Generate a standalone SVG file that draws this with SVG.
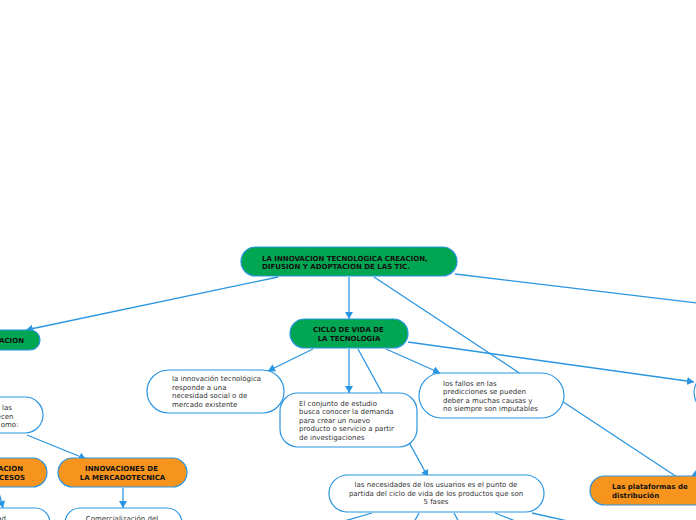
<svg xmlns="http://www.w3.org/2000/svg" width="696" height="520" viewBox="0 0 696 520">
<defs>
<marker id="arr" markerUnits="userSpaceOnUse" markerWidth="8" markerHeight="8" refX="7" refY="4" orient="auto"><path d="M0,0 L7,4 L0,8 z" fill="#2a95e0"/></marker>
</defs>
<style>
.c{stroke:#2a95e0;stroke-width:1.3;fill:none}
.a{marker-end:url(#arr)}
.g{fill:#00a651;stroke:#2a95e0;stroke-width:1.2}
.o{fill:#f7941d;stroke:#2a95e0;stroke-width:1.2}
.w{fill:#fff;stroke:#2a95e0;stroke-width:1.2}
.t{font-family:"DejaVu Sans",Verdana,sans-serif;font-size:7px;fill:#333}
.b{font-family:"DejaVu Sans",Verdana,sans-serif;font-size:7px;font-weight:bold;fill:#111}
.m{text-anchor:middle}
.e{text-anchor:end}
</style>
<rect width="696" height="520" fill="#fff"/>
<g id="connectors">
<line class="c a" x1="278" y1="277" x2="26" y2="330"/>
<line class="c a" x1="349" y1="277" x2="349" y2="319"/>
<line class="c" x1="374" y1="277" x2="677" y2="477"/>
<line class="c" x1="455" y1="274" x2="700" y2="303.3"/>
<line class="c a" x1="313" y1="349" x2="268" y2="371"/>
<line class="c a" x1="349" y1="349" x2="349" y2="393"/>
<line class="c a" x1="358" y1="349" x2="428" y2="477"/>
<line class="c a" x1="386" y1="349" x2="440" y2="373"/>
<line class="c a" x1="408" y1="342" x2="694" y2="382"/>
<line class="c a" x1="27" y1="435" x2="86" y2="459"/>
<line class="c a" x1="123" y1="488" x2="123" y2="508"/>
<line class="c a" x1="-2" y1="489" x2="3" y2="508"/>
<line class="c a" x1="740" y1="452" x2="691" y2="477"/>
<line class="c" x1="372" y1="513" x2="334" y2="524"/>
<line class="c" x1="419" y1="513" x2="413" y2="524"/>
<line class="c" x1="454" y1="513" x2="460" y2="524"/>
<line class="c" x1="495" y1="513" x2="523" y2="524"/>
<line class="c" x1="532" y1="513" x2="590" y2="526"/>
</g>
<g id="n-main">
<rect class="g" x="241" y="247" width="216" height="29" rx="14.5"/>
<text class="b" x="262" y="260.5">LA INNOVACION TECNOLOGICA CREACION,</text>
<text class="b" x="262" y="269">DIFUSION Y ADOPTACION DE LAS TIC.</text>
</g>
<g id="n-ciclo">
<rect class="g" x="290" y="319" width="118" height="29" rx="14.5"/>
<text class="b m" x="348.5" y="332">CICLO DE VIDA DE</text>
<text class="b m" x="349" y="340.5">LA TECNOLOGIA</text>
</g>
<g id="n-left-green">
<rect class="g" x="-60" y="330" width="100" height="20" rx="10"/>
<text class="b e" x="24" y="343">ACION</text>
</g>
<g id="n-left-white">
<rect class="w" x="-100" y="397" width="143" height="36" rx="18"/>
<text class="t e" x="12" y="410">las</text>
<text class="t e" x="13.5" y="418.5">ecen</text>
<text class="t e" x="18.5" y="427">omo:</text>
</g>
<g id="n-left-orange">
<rect class="o" x="-80" y="458" width="127" height="29" rx="14.5"/>
<text class="b e" x="23" y="471">ACION</text>
<text class="b e" x="25" y="479.5">CESOS</text>
</g>
<g id="n-mercado">
<rect class="o" x="58" y="458" width="129" height="29" rx="14.5"/>
<text class="b m" x="121.5" y="471">INNOVACIONES DE</text>
<text class="b m" x="122.5" y="479.5">LA MERCADOTECNICA</text>
</g>
<g id="n-comercial">
<rect class="w" x="65" y="508" width="117" height="40" rx="15"/>
<text class="t m" x="122" y="521">Comercialización del</text>
</g>
<g id="n-bottom-left">
<rect class="w" x="-100" y="508" width="150" height="40" rx="15"/>
<text class="t e" x="6" y="521">ad</text>
</g>
<g id="n-innovacion">
<rect class="w" x="147" y="370" width="137" height="43" rx="21.5"/>
<text class="t" x="172" y="381">la innovación tecnológica</text>
<text class="t" x="172" y="389.5">responde a una</text>
<text class="t" x="172" y="398">necesidad social o de</text>
<text class="t" x="172" y="406.5">mercado existente</text>
</g>
<g id="n-conjunto">
<rect class="w" x="280" y="393" width="137" height="54" rx="18"/>
<text class="t" x="299" y="405.7">El conjunto de estudio</text>
<text class="t" x="299" y="414.2">busca conocer la demanda</text>
<text class="t" x="299" y="422.7">para crear un nuevo</text>
<text class="t" x="299" y="431.2">producto o servicio a partir</text>
<text class="t" x="299" y="439.7">de investigaciones</text>
</g>
<g id="n-fallos">
<rect class="w" x="419" y="373" width="145" height="45" rx="22.5"/>
<text class="t" x="443" y="385.7">los fallos en las</text>
<text class="t" x="443" y="394.2">predicciones se pueden</text>
<text class="t" x="443" y="402.7">deber a muchas causas y</text>
<text class="t" x="443" y="411.2">no siempre son imputables</text>
</g>
<g id="n-necesidades">
<rect class="w" x="329" y="475" width="215" height="37" rx="18.5"/>
<text class="t m" x="436" y="487.3">las necesidades de los usuarios es el punto de</text>
<text class="t m" x="436" y="495.8">partida del ciclo de vida de los productos que son</text>
<text class="t m" x="436" y="504.3">5 fases</text>
</g>
<g id="n-plataformas">
<rect class="o" x="590" y="476" width="150" height="29" rx="14.5"/>
<text class="b" x="612" y="489.3">Las plataformas de</text>
<text class="b" x="612" y="497.7">distribución</text>
</g>
<g id="n-right">
<rect class="w" x="694" y="373" width="120" height="39" rx="19.5"/>
</g>
</svg>
